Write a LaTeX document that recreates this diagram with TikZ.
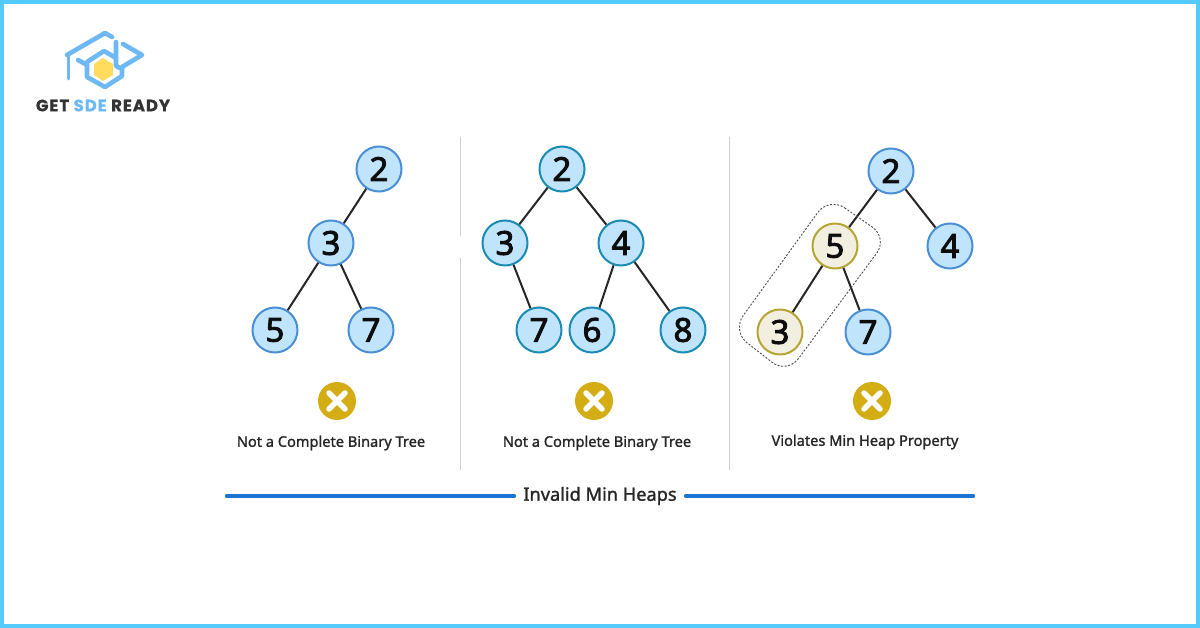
\documentclass[tikz,border=0pt]{standalone}
\usepackage{fontspec}
\setmainfont{Noto Sans}
\newfontfamily\logofont{Poppins}[FakeBold=0.6]
\newfontfamily\semifont{Noto Sans}[FakeBold=1.3]
\newfontfamily\digitfont{Noto Sans}[FakeBold=2.6]
\definecolor{frameblue}{HTML}{55CBFB}
\definecolor{nodefill}{HTML}{BFE4FC}
\definecolor{nodeline}{HTML}{4A8FD6}
\definecolor{tealline}{HTML}{1A8CB4}
\definecolor{badfill}{HTML}{F3EFE0}
\definecolor{badline}{HTML}{B5A532}
\definecolor{xgold}{HTML}{D4AD14}
\definecolor{barblue}{HTML}{1C74D4}
\definecolor{logoblue}{HTML}{6DB8F5}
\definecolor{logoyellow}{HTML}{FFDC5E}
\tikzset{
  x=1pt,y=-1pt,
  heap/.style={circle,draw=nodeline,fill=nodefill,line width=2pt,minimum size=45pt,inner sep=0pt,font=\digitfont\fontsize{33}{33}\selectfont,text=black!95},
  heapt/.style={heap,draw=tealline},
  heapbad/.style={heap,draw=badline,fill=badfill},
  treeline/.style={draw=black!85,line width=2pt},
  divider/.style={draw=black!18,line width=0.8pt},
  captext/.style={font=\semifont\fontsize{14.6}{14.6}\selectfont,text=black!85},
  xmark/.style={circle,fill=xgold,minimum size=38pt,inner sep=0pt},
  bar/.style={draw=barblue,line width=4.4pt,line cap=round},
  logoline/.style={draw=logoblue,line width=4.6pt,line cap=round,line join=round},
}
\newcommand{\xsign}[1]{\draw[white,line width=5.5pt,line cap=round] ([shift={(-8,-8)}]#1.center) -- ([shift={(8,8)}]#1.center) ([shift={(-8,8)}]#1.center) -- ([shift={(8,-8)}]#1.center);}
\begin{document}
\begin{tikzpicture}
\useasboundingbox (0,0) rectangle (1200,628);
\fill[white] (0,0) rectangle (1200,628);
\draw[frameblue,line width=4pt] (2,2) rectangle (1198,626);
% logo
\draw[logoline] (67,55) -- (105,33) -- (112,37);
\draw[logoline] (123,44) -- (142,55) -- (122,67) -- (122,76) -- (105,87) -- (87,77) -- (87,62) -- (104,51) -- (116,58);
\draw[logoline] (116,42) -- (116,66) -- (122,69);
\draw[logoline] (78,60) -- (87,65);
\draw[logoline,line width=3pt] (68,56) -- (68,79);
\fill[logoyellow] (103,58) -- (113,64) -- (113,75) -- (103,81) -- (94,75) -- (94,64) -- cycle;
\node[font=\logofont\fontsize{16.5}{16.5}\selectfont\bfseries,inner sep=0pt] (logotext) at (103,105.5) {\addfontfeature{LetterSpace=6}\textcolor{black!80}{GET} \textcolor{logoblue}{SDE} \textcolor{black!80}{READY}};
% dividers
\coordinate (d1a) at (460,137); \coordinate (d1b) at (460,236);
\coordinate (d1c) at (460,258); \coordinate (d1d) at (460,470);
\coordinate (d2a) at (729,137); \coordinate (d2b) at (729,470);
\draw[divider] (d1a) -- (d1b) (d1c) -- (d1d) (d2a) -- (d2b);
% tree 1
\node[heap] (a2) at (379,169) {2};
\node[heap] (a3) at (331,243) {3};
\node[heap] (a5) at (275,330) {5};
\node[heap] (a7) at (371,330) {7};
\draw[treeline] (a2) -- (a3); \draw[treeline] (a3) -- (a5); \draw[treeline] (a3) -- (a7);
\node[xmark] (x1) at (337,401) {}; \xsign{x1}
\node[captext] (c1) at (331,443) {Not a Complete Binary Tree};
% tree 2
\node[heapt] (b2) at (562,169) {2};
\node[heapt] (b3) at (505,243) {3};
\node[heapt] (b4) at (621,243) {4};
\node[heapt] (b7) at (539,330) {7};
\node[heapt] (b6) at (592,330) {6};
\node[heapt] (b8) at (683,330) {8};
\draw[treeline] (b2) -- (b3); \draw[treeline] (b2) -- (b4); \draw[treeline] (b3) -- (b7);
\draw[treeline] (b4) -- (b6); \draw[treeline] (b4) -- (b8);
\node[xmark] (x2) at (594,401) {}; \xsign{x2}
\node[captext] (c2) at (597,443) {Not a Complete Binary Tree};
% tree 3
\node[heap] (e2) at (891,171) {2};
\node[heapbad] (e5) at (835,246) {5};
\node[heap] (e4) at (950,246) {4};
\node[heapbad] (e3) at (780,332) {3};
\node[heap] (e7) at (868,332) {7};
\draw[treeline] (e2) -- (e5); \draw[treeline] (e2) -- (e4); \draw[treeline] (e5) -- (e3); \draw[treeline] (e5) -- (e7);
\draw[dash pattern=on 2pt off 1.6pt,draw=black!70,line width=0.9pt,rounded corners=19pt]
  (829,197) -- (888,238) -- (787,374) -- (732,331) -- cycle;
\node[xmark] (x3) at (872,401) {}; \xsign{x3}
\node[captext] (c3) at (865,442) {Violates Min Heap Property};
% bottom
\node[font=\semifont\fontsize{18.2}{18.2}\selectfont,text=black!85,inner sep=0pt] (title) at (600,496) {Invalid Min Heaps};
\coordinate (bl) at (227,496); \coordinate (bm) at (514,496);
\coordinate (br) at (686,496); \coordinate (be) at (973,496);
\draw[bar] (bl) -- (bm); \draw[bar] (br) -- (be);
\end{tikzpicture}
\end{document}
